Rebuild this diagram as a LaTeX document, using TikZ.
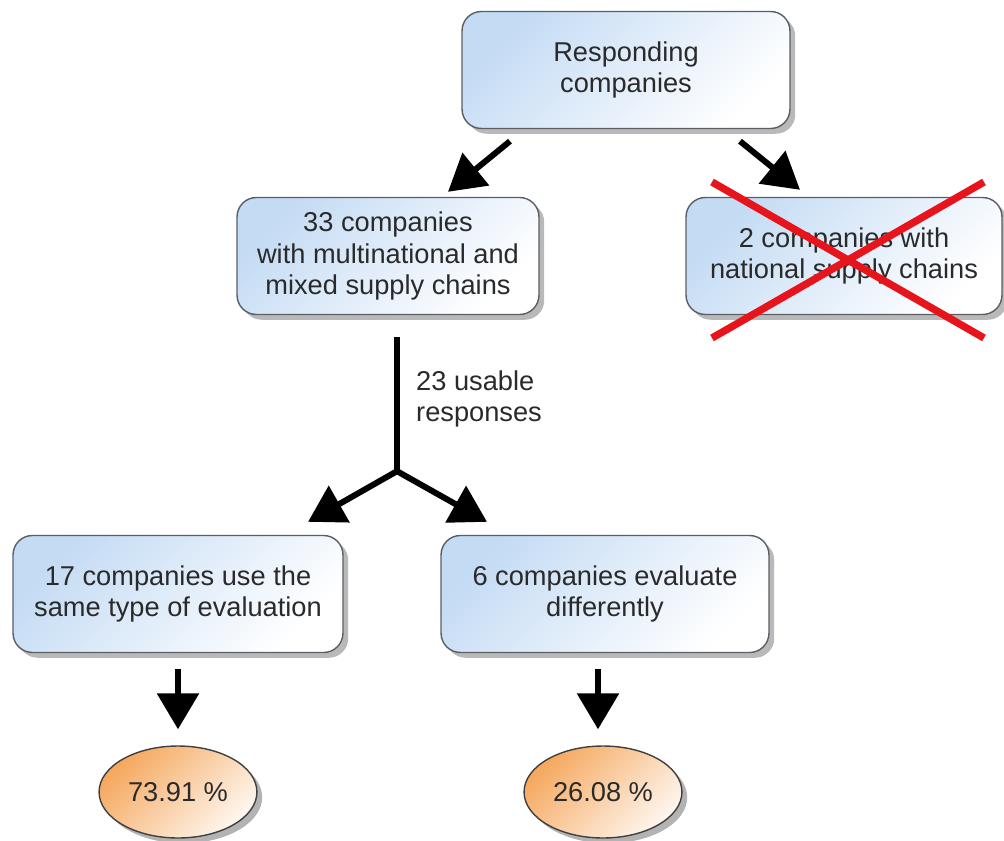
\documentclass[tikz,border=0pt]{standalone}
\usepackage{fontspec}
\setmainfont{Liberation Sans}
\usetikzlibrary{arrows.meta,shadows,calc,shapes.geometric}
\definecolor{boxblue}{HTML}{C4DBF4}
\definecolor{boxline}{HTML}{5A5F66}
\definecolor{ovalorange}{HTML}{F5A85E}
\definecolor{textgray}{HTML}{2A2A2A}
\definecolor{crossred}{HTML}{E8141C}
\begin{document}
\begin{tikzpicture}[x=0.02cm,y=-0.02cm,
    box/.style={draw=boxline, line width=0.8pt, rounded corners=11pt, align=center,
        minimum height=2.34cm, top color=boxblue, bottom color=white, shading angle=45,
        drop shadow={shadow xshift=3pt, shadow yshift=-3pt, fill=black!50, opacity=0.55},
        font=\fontsize{15.5}{18}\selectfont, text=textgray},
    oval/.style={ellipse, draw=black!75, line width=0.8pt, minimum width=3.02cm, minimum height=1.84cm,
        top color=ovalorange, bottom color=white!90!ovalorange, shading angle=45,
        drop shadow={shadow xshift=3pt, shadow yshift=-3pt, fill=black!50, opacity=0.6},
        font=\fontsize{15.5}{18}\selectfont, text=textgray},
    bigarrow/.style={line width=3.4pt, -{Triangle[length=0.72cm, width=0.82cm]}},
    stem/.style={line width=3.4pt}]
    \useasboundingbox (0,0) rectangle (1004,841);
    % boxes
    \node[box, minimum width=6.56cm] (resp) at (626,70) {Responding\\companies};
    \node[box, minimum width=6.04cm] (multi) at (388,256) {33 companies\\with multinational and\\mixed supply chains};
    \node[box, minimum width=6.32cm] (nat) at (844,256) {2 companies with\\national supply chains};
    \node[box, minimum width=6.6cm] (same) at (178,594) {17 companies use the\\same type of evaluation};
    \node[box, minimum width=6.56cm] (diff) at (605,594) {6 companies evaluate\\differently};
    \node[oval] (ratio1) at (178,792) {73.91 \%};
    \node[oval] (ratio2) at (603,792) {26.08 \%};
    \node[anchor=west, align=left, font=\fontsize{15.5}{18}\selectfont, text=textgray] (usable) at (410,399) {23 usable\\responses};
    % crossed out
    \draw[crossred, line width=4.2pt] (712,182) -- (984,338);
    \draw[crossred, line width=4.2pt] (712,338) -- (984,182);
    % arrows
    \draw[bigarrow] ($(resp.south)+(-116,12)$) -- ($(multi.north)+(60,-5)$);
    \draw[bigarrow] ($(resp.south)+(114,12)$) -- ($(nat.north)+(-44,-7)$);
    \coordinate (split) at ($(multi.south)+(9,156)$);
    \draw[stem] ($(multi.south)+(9,22)$) -- (split);
    \draw[bigarrow] (split) -- ($(same.north)+(130,-13)$);
    \draw[bigarrow] (split) -- ($(diff.north)+(-118,-13)$);
    \draw[bigarrow] ($(same.south)+(0,16)$) -- ($(ratio1.north)+(0,-16)$);
    \draw[bigarrow] ($(diff.south)+(-7,16)$) -- ($(ratio2.north)+(-5,-16)$);
\end{tikzpicture}
\end{document}
